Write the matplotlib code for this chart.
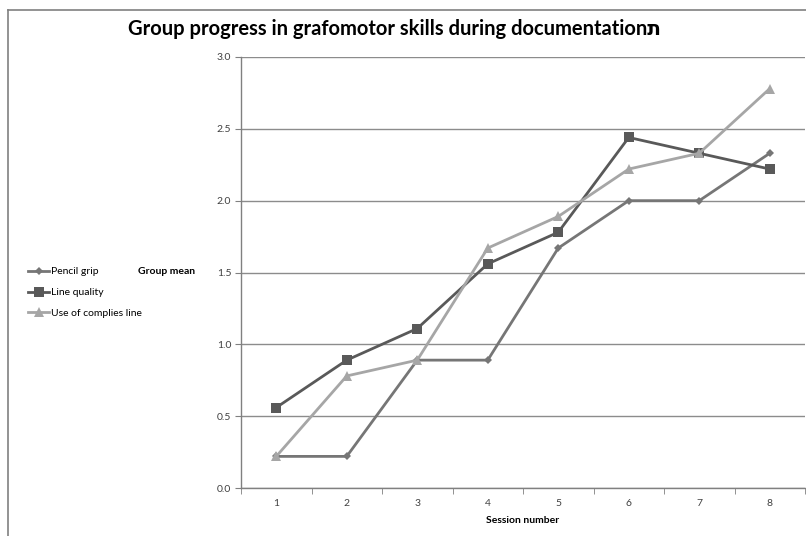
import matplotlib
matplotlib.use("Agg")
import matplotlib.pyplot as plt
from matplotlib.lines import Line2D

sessions = [1, 2, 3, 4, 5, 6, 7, 8]
pencil_grip = [0.22, 0.22, 0.89, 0.89, 1.67, 2.00, 2.00, 2.33]
line_quality = [0.56, 0.89, 1.11, 1.56, 1.78, 2.44, 2.33, 2.22]
complies_line = [0.22, 0.78, 0.89, 1.67, 1.89, 2.22, 2.33, 2.78]
series_names = ["Pencil grip", "Line quality", "Use of complies line"]
y_ticks = [0.0, 0.5, 1.0, 1.5, 2.0, 2.5, 3.0]

plt.rcParams['font.family'] = ['Lato', 'DejaVu Sans']

W, H = 806, 536
fig = plt.figure(figsize=(W / 100, H / 100), dpi=100)
fig.patch.set_facecolor('white')

# outer chart frame
fig.add_artist(Line2D([8 / W, 8 / W], [0, 1 - 10 / H], color='#808080', lw=1.2, transform=fig.transFigure))
fig.add_artist(Line2D([8 / W, 1], [1 - 10 / H, 1 - 10 / H], color='#808080', lw=1.2, transform=fig.transFigure))

left, right = 241 / W, 805 / W
bottom, top = 1 - 488 / H, 1 - 57 / H
ax = fig.add_axes([left, bottom, right - left, top - bottom])

styles = [
    dict(color='#767676', marker='D', markersize=4.5, lw=2.0),
    dict(color='#595959', marker='s', markersize=7, lw=2.0),
    dict(color='#a6a6a6', marker='^', markersize=6.5, lw=2.0),
]
handles = []
for vals, name, st in zip([pencil_grip, line_quality, complies_line], series_names, styles):
    h, = ax.plot(sessions, vals, label=name, color=st['color'], marker=st['marker'],
                 markersize=st['markersize'], lw=st['lw'], markeredgewidth=0, zorder=3)
    handles.append(h)

ax.set_xlim(0.5, 8.5)
ax.set_ylim(0, 3.0)
ax.set_yticks(y_ticks)
ax.set_yticklabels([f"{v:.1f}" for v in y_ticks], fontsize=7.5, color='#404040')
ax.set_xticks(sessions)
ax.set_xticklabels([str(s) for s in sessions], fontsize=7.5, color='#404040')
ax.set_xticks([s + 0.5 for s in [0] + sessions], minor=True)
ax.tick_params(axis='x', which='major', length=0, pad=8)
ax.tick_params(axis='x', which='minor', length=4, color='#808080', direction='out')
ax.tick_params(axis='y', length=4, color='#808080', direction='out', pad=3)

ax.grid(axis='y', color='#8c8c8c', lw=1.0)
ax.set_axisbelow(True)
for s in ['top', 'right']:
    ax.spines[s].set_visible(False)
for s in ['left', 'bottom']:
    ax.spines[s].set_color('#808080')
    ax.spines[s].set_linewidth(1.0)

ax.set_xlabel("Session number", fontsize=7.5, fontweight='bold', labelpad=6)
fig.text(195 / W, 1 - 271 / H, "Group mean", fontsize=7.5, fontweight='bold', ha='right', va='center')

fig.text(395 / W, 1 - 29 / H, "Group progress in grafomotor skills during documentationת",
         fontsize=14.5, fontweight='bold', ha='center', va='center')

leg = fig.legend(handles=handles, labels=series_names, loc='upper left',
                 bbox_to_anchor=(24 / W, 1 - 263 / H), frameon=False, fontsize=7.5,
                 handlelength=2.0, handletextpad=0.2, labelspacing=1.1, borderaxespad=0)

fig.savefig("out.png", dpi=100, facecolor='white')
